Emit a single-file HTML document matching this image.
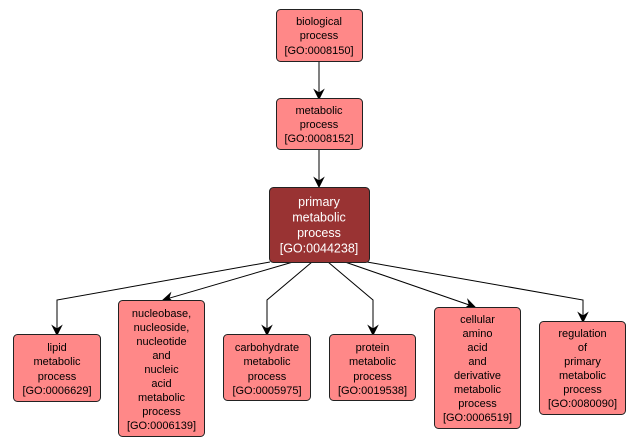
<!DOCTYPE html>
<html><head><meta charset="utf-8"><style>
html,body{margin:0;padding:0;background:#fff;}
svg{display:block;}
text{font-family:"Liberation Sans",Arial,sans-serif;font-size:11px;fill:#000;text-anchor:middle;}
.p text{fill:#fff;font-size:12.5px;}
</style></head><body>
<svg width="640" height="446" viewBox="0 0 640 446" xmlns="http://www.w3.org/2000/svg">
<g fill="none" stroke="#000" stroke-width="1">
<line x1="319" y1="61" x2="319" y2="93"/>
<line x1="319" y1="149" x2="319" y2="181"/>
<polyline points="270,262 57,300 57,329"/>
<polyline points="293,262 168.8,298.3"/>
<polyline points="312,262 267,300 267,329"/>
<polyline points="328,262 373,300 373,329"/>
<polyline points="345,262 469.3,305"/>
<polyline points="367,262 583,300 583,316"/>
</g>
<g fill="#000" stroke="#000" stroke-width="1">
<polygon points="319,99 314.5,90 319,93 323.5,90"/>
<polygon points="319,187 314.5,178 319,181 323.5,178"/>
<polygon points="57,335 52.5,326 57,329 61.5,326"/>
<polygon points="163,300 170.4,293.2 168.8,298.3 172.9,301.8"/>
<polygon points="267,335 262.5,326 267,329 271.5,326"/>
<polygon points="373,335 368.5,326 373,329 377.5,326"/>
<polygon points="475,307 465,308.3 469.3,305 468,299.8"/>
<polygon points="583,322 578.5,313 583,316 587.5,313"/>
</g>
<g stroke="#222" stroke-width="1" fill="#ff8888">
<rect x="276.5" y="9.5" width="86" height="52" rx="4"/>
<rect x="276.5" y="98.5" width="86" height="51" rx="4"/>
<rect x="13.5" y="334.5" width="87" height="67" rx="4"/>
<rect x="118.5" y="300.5" width="86" height="136" rx="4"/>
<rect x="223.5" y="334.5" width="87" height="66" rx="4"/>
<rect x="329.5" y="334.5" width="86" height="66" rx="4"/>
<rect x="434.5" y="307.5" width="86" height="121" rx="4"/>
<rect x="539.5" y="321.5" width="86" height="93" rx="4"/>
</g>
<rect x="269.5" y="187.5" width="100" height="75" rx="4" fill="#993333" stroke="#222" stroke-width="1"/>

<text x="319" y="25">biological</text>
<text x="319" y="39">process</text>
<text x="319" y="54">[GO:0008150]</text>

<text x="319" y="114">metabolic</text>
<text x="319" y="128">process</text>
<text x="319" y="142">[GO:0008152]</text>

<g class="p">
<text x="319" y="206">primary</text>
<text x="319" y="221.5">metabolic</text>
<text x="319" y="237">process</text>
<text x="319" y="252.5">[GO:0044238]</text>
</g>

<text x="57" y="351">lipid</text>
<text x="57" y="365">metabolic</text>
<text x="57" y="380">process</text>
<text x="57" y="394">[GO:0006629]</text>

<text x="161.5" y="317">nucleobase,</text>
<text x="161.5" y="331">nucleoside,</text>
<text x="161.5" y="345">nucleotide</text>
<text x="161.5" y="359">and</text>
<text x="161.5" y="373">nucleic</text>
<text x="161.5" y="387">acid</text>
<text x="161.5" y="401">metabolic</text>
<text x="161.5" y="415">process</text>
<text x="161.5" y="429">[GO:0006139]</text>

<text x="267" y="351">carbohydrate</text>
<text x="267" y="365">metabolic</text>
<text x="267" y="380">process</text>
<text x="267" y="394">[GO:0005975]</text>

<text x="372.5" y="351">protein</text>
<text x="372.5" y="365">metabolic</text>
<text x="372.5" y="380">process</text>
<text x="372.5" y="394">[GO:0019538]</text>

<text x="477.5" y="323">cellular</text>
<text x="477.5" y="337">amino</text>
<text x="477.5" y="351">acid</text>
<text x="477.5" y="365">and</text>
<text x="477.5" y="379">derivative</text>
<text x="477.5" y="393">metabolic</text>
<text x="477.5" y="407">process</text>
<text x="477.5" y="421">[GO:0006519]</text>

<text x="582.5" y="337">regulation</text>
<text x="582.5" y="351">of</text>
<text x="582.5" y="365">primary</text>
<text x="582.5" y="379">metabolic</text>
<text x="582.5" y="393">process</text>
<text x="582.5" y="407">[GO:0080090]</text>
</svg>
</body></html>
